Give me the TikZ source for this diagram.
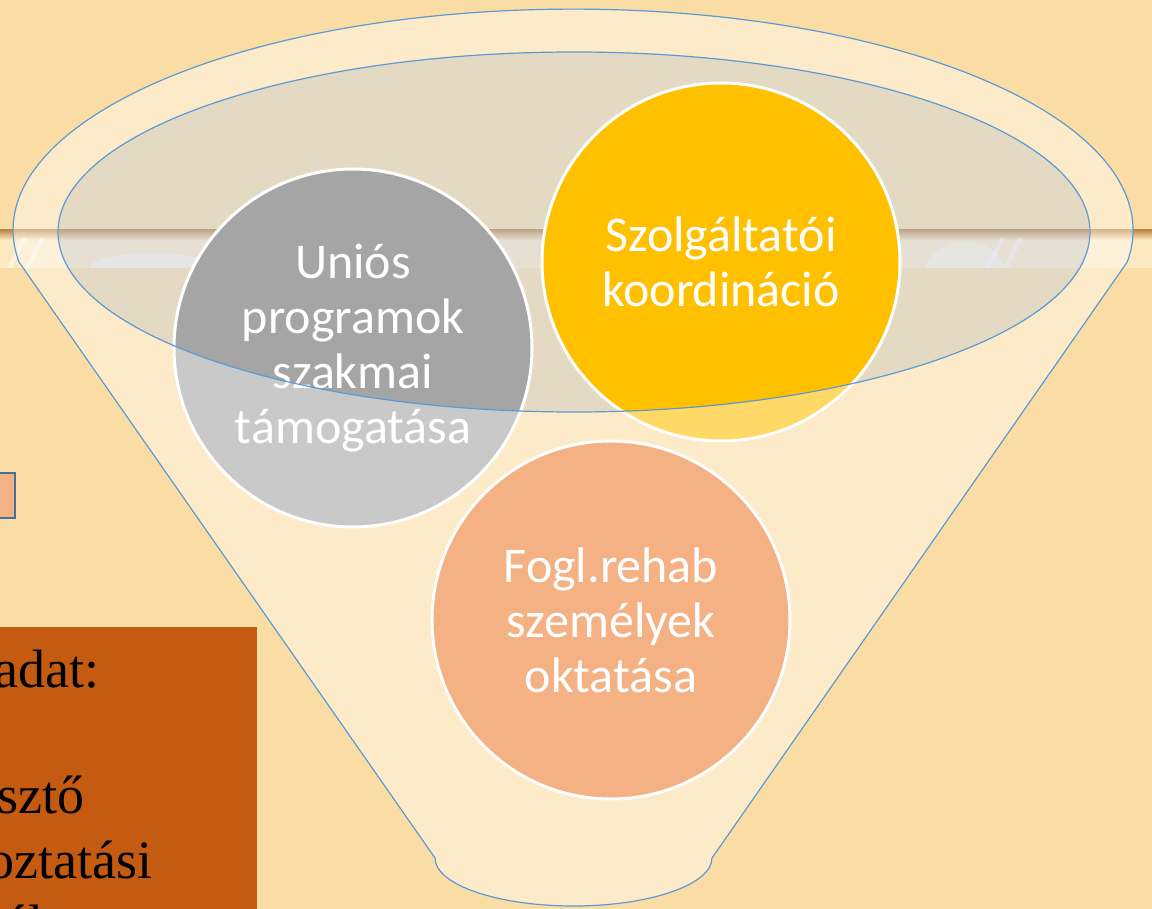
\documentclass[tikz,border=0pt]{standalone}
\usepackage{fontspec}
\newfontfamily\calibri{Carlito}
\newfontfamily\antiqua{Liberation Serif}
\definecolor{bg}{RGB}{250,221,165}
\definecolor{banddark}{RGB}{190,140,74}
\definecolor{bandlight}{RGB}{252,233,192}
\definecolor{rim}{RGB}{91,155,213}
\definecolor{mouth}{RGB}{195,211,240}
\definecolor{grayc}{RGB}{165,165,165}
\definecolor{goldc}{RGB}{255,192,0}
\definecolor{orangec}{RGB}{237,125,49}
\definecolor{brownc}{RGB}{197,90,17}
\definecolor{salmonc}{RGB}{244,177,131}
\definecolor{boxblue}{RGB}{65,113,156}
\tikzset{
	bubble/.style={circle, draw=white, line width=3pt, minimum size=358pt, inner sep=0pt,
		align=center, text=white, font=\calibri\fontsize{50}{55}\selectfont},
	brownline/.style={anchor=base west, inner sep=0pt, font=\antiqua\fontsize{54}{64}\selectfont}
}
\begin{document}
\begin{tikzpicture}[x=1pt,y=-1pt]
	\useasboundingbox (0,0) rectangle (1152,909);
	\fill[bg] (0,0) rectangle (1152,909);
	% band of the slide background
	\fill[bandlight] (0,236) rectangle (1152,268);
	\shade[top color=banddark, bottom color=bandlight] (0,230) rectangle (1152,240);
	\begin{scope}
	\clip (0,238) rectangle (1152,268);
	\fill[white, opacity=0.55] (152,270) ellipse [x radius=64, y radius=17];
	\fill[white, opacity=0.4] (965,272) ellipse [x radius=40, y radius=30];
	\foreach \x in {22,40,470,490,1000,1018}
	\fill[white, opacity=0.5] (\x,238) -- (\x+5,238) -- (\x-10,268) -- (\x-15,268) -- cycle;
	\end{scope}
	% mouth of the funnel
	\fill[mouth, fill opacity=0.4] (574,232) ellipse [x radius=516, y radius=180];
	% the three circles
	\node[bubble, fill=grayc] (unios) at (353,348) {Uniós\\programok\\szakmai\\támogatása};
	\node[bubble, fill=goldc] (szolg) at (721,262) {Szolgáltatói\\koordináció};
	\node[bubble, fill=orangec] (fogl) at (611,620) {Fogl.rehab\\személyek\\oktatása};
	% funnel body
	\fill[white, fill opacity=0.4, even odd rule]
		(19,262) arc [start angle=171.7, end angle=368.3, x radius=560, y radius=221]
		-- (712,858) arc [start angle=0, end angle=180, x radius=138.5, y radius=48] -- cycle
		(574,232) ellipse [x radius=516, y radius=180];
	\draw[rim, line width=1.2pt]
		(19,262) arc [start angle=171.7, end angle=368.3, x radius=560, y radius=221]
		-- (712,858) arc [start angle=0, end angle=180, x radius=138.5, y radius=48] -- cycle;
	\draw[rim, line width=1.2pt] (574,232) ellipse [x radius=516, y radius=180];
	% left side
	\node[draw=boxblue, fill=salmonc, line width=2pt, minimum width=40pt, minimum height=45pt, inner sep=0pt] (mark) at (-5,495) {};
	\fill[brownc] (-5,627) rectangle (257,915);
	\node[brownline] (feladat) at (-6,687) {adat:};
	\node[brownline] (fejleszto) at (-3,813) {sztő};
	\node[brownline] (tajek) at (-13,878) {oztatási};
	\node[brownline] (also) at (4,942) {ál};
\end{tikzpicture}
\end{document}
